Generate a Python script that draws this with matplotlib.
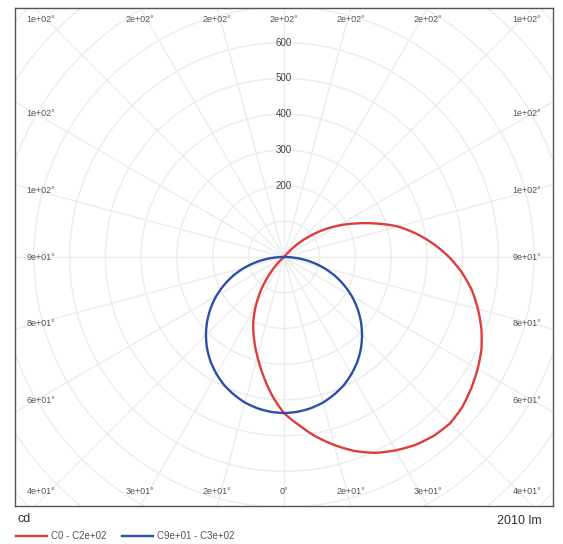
import numpy as np
import matplotlib
matplotlib.use("Agg")
import matplotlib.pyplot as plt

# C0 - C180 plane, angle from nadir in degrees (negative = C180 side), intensity in cd
red_angles = [-50, -45, -40, -35, -30, -25, -20, -15, -10, -5, 0, 5, 10, 15, 20, 25, 30,
              35, 40, 45, 50, 55, 60, 65, 70, 75, 80, 85, 90, 95, 100, 105, 110, 115, 120,
              125, 130, 135, 140]
red_cd = [0, 24, 64, 110, 158, 204, 245, 288, 336, 388, 437, 472, 510, 545, 578, 605, 625,
          642, 653, 658, 652, 640, 626, 610, 588, 562, 534, 500, 462, 420, 376, 330, 274,
          222, 176, 130, 84, 42, 0]

# C90 - C270 plane (symmetric), half curve from nadir
blue_angles = [0, 5, 10, 15, 20, 25, 30, 35, 40, 45, 50, 55, 60, 65, 70, 75, 80, 85, 90]
blue_cd = [437, 435, 430, 422, 410, 396, 378, 358, 335, 309, 281, 251, 219, 185, 150, 113, 76, 38, 0]

ring_values = [100, 200, 300, 400, 500, 600, 700, 800, 900, 1000]
ring_labels = [200, 300, 400, 500, 600]
spoke_angles = np.arange(0, 360, 15)
frame_angles = [-135, -150, -165, 180, 165, 150, 135,   # top, left to right
                -120, -105, -90, -75, -60,              # left side
                120, 105, 90, 75, 60,                   # right side
                -45, -30, -15, 0, 15, 30, 45]           # bottom
lumen_text = "2010 lm"
legend_labels = ["C0 - C2e+02", "C9e+01 - C3e+02"]

RED = "#e03c3c"
BLUE = "#2d4fa6"
GRID = "#ececec"
TXT = "#555555"
W, H = 563, 544


def polar_xy(angles, values):
    a = np.radians(np.asarray(angles, dtype=float))
    v = np.asarray(values, dtype=float)
    return v * np.sin(a), -v * np.cos(a)


def angle_label(a):
    a = abs(a)
    return "0°" if a == 0 else f"{a:.0e}°"


fig = plt.figure(figsize=(W / 100, H / 100), dpi=100)
ax = fig.add_axes([15 / W, 1 - 506 / H, 538 / W, 498 / H])
XL, YL = 753, 697
ax.set_xlim(-XL, XL)
ax.set_ylim(-YL, YL)
ax.set_xticks([])
ax.set_yticks([])
for s in ax.spines.values():
    s.set_color("#555555")
    s.set_linewidth(1.0)

# grid: rings and spokes
t = np.linspace(0, 2 * np.pi, 400)
for r in ring_values:
    ax.plot(r * np.cos(t), r * np.sin(t), color=GRID, lw=1.0, zorder=1)
for a in spoke_angles:
    x, y = polar_xy([a], [1100])
    ax.plot([0, x[0]], [0, y[0]], color=GRID, lw=1.0, zorder=1)

for r in ring_labels:
    ax.text(0, r, str(r), ha="center", va="center", fontsize=7, color="#444444",
            family="Liberation Sans", zorder=3)

# angle labels around the frame
S = YL
for a in frame_angles:
    sa, ca = np.sin(np.radians(a)), -np.cos(np.radians(a))
    m = max(abs(sa), abs(ca))
    x, y = S * sa / m, S * ca / m
    x = np.clip(x, -680, 680)
    y = np.clip(y, -657, 665)
    ax.text(x, y, angle_label(a), ha="center", va="center", fontsize=6.5, color=TXT,
            family="Liberation Sans", zorder=3)

# curves on a transparent polar axes sharing the same centre and scale
cx, cy = 15 + 538 / 2, 8 + 498 / 2
half = 498 / 2
pax = fig.add_axes([(cx - half) / W, 1 - (cy + half) / H, 2 * half / W, 2 * half / H],
                   projection="polar")
pax.set_theta_zero_location("S")
pax.set_theta_direction(1)
pax.set_ylim(0, YL)
pax.patch.set_alpha(0)
pax.axis("off")

l1, = pax.plot(np.radians(red_angles), red_cd, color=RED, lw=1.7, zorder=4, clip_on=False)
ba = [-a for a in blue_angles[::-1]] + blue_angles[1:]
bv = blue_cd[::-1] + blue_cd[1:]
l2, = pax.plot(np.radians(ba), bv, color=BLUE, lw=1.7, zorder=5, clip_on=False)
# let the polar transform draw each segment as an arc instead of a chord
for ln in (l1, l2):
    ln.get_path()._interpolation_steps = 24

fig.text(18 / W, 1 - 519 / H, "cd", ha="left", va="center", fontsize=9,
         color="#333333", family="Liberation Sans")
fig.text(542 / W, 1 - 521 / H, lumen_text, ha="right", va="center", fontsize=9,
         color="#333333", family="Liberation Sans")
fig.legend([l1, l2], legend_labels, loc="center left", bbox_to_anchor=(16 / W, 1 - 536 / H),
           ncol=2, frameon=False, handlelength=3.2, handletextpad=0.4,
           columnspacing=1.6, borderpad=0, borderaxespad=0,
           prop={"family": "Liberation Sans", "size": 7}, labelcolor=TXT)

fig.savefig("out.png", dpi=100)
